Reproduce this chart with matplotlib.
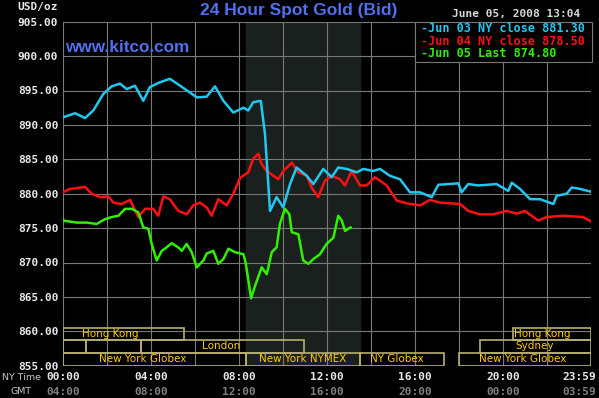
import matplotlib.pyplot as plt
from matplotlib.patches import Rectangle

# times are NY time in hours, prices are spot gold bid in USD/oz
jun03_hours = [0.0, 0.55, 1.0, 1.38, 1.83, 2.21, 2.59, 2.9, 3.27, 3.65, 3.95, 4.41, 4.86,
               5.32, 5.77, 6.08, 6.53, 6.91, 7.29, 7.74, 8.2, 8.42, 8.65, 8.99, 9.18, 9.41,
               9.71, 10.01, 10.32, 10.62, 11.08, 11.38, 11.83, 12.21, 12.51, 12.9, 13.35,
               13.65, 14.1, 14.41, 14.86, 15.32, 15.77, 16.23, 16.76, 17.06, 17.97, 18.12,
               18.42, 18.88, 19.71, 20.24, 20.4, 20.77, 21.23, 21.68, 22.29, 22.44, 22.9,
               23.12, 23.5, 23.98]
jun03_price = [891.1, 891.7, 891.0, 892.1, 894.5, 895.6, 896.0, 895.2, 895.7, 893.5, 895.5,
               896.2, 896.7, 895.7, 894.7, 894.0, 894.1, 895.6, 893.5, 891.8, 892.5, 892.1,
               893.3, 893.5, 888.7, 877.5, 879.5, 878.0, 881.4, 883.8, 882.6, 881.4, 883.6,
               882.4, 883.8, 883.6, 883.1, 883.6, 883.3, 883.6, 882.6, 882.1, 880.2, 880.2,
               879.5, 881.3, 881.5, 880.2, 881.4, 881.2, 881.4, 880.4, 881.6, 880.7, 879.2,
               879.2, 878.5, 879.7, 880.0, 880.9, 880.7, 880.3]

jun04_hours = [0.0, 0.32, 0.62, 1.0, 1.3, 1.68, 2.06, 2.29, 2.67, 3.05, 3.42, 3.73, 4.1,
               4.33, 4.56, 4.86, 5.24, 5.62, 5.92, 6.23, 6.53, 6.76, 7.06, 7.44, 7.74, 8.05,
               8.42, 8.65, 8.88, 9.03, 9.26, 9.79, 10.01, 10.4, 10.7, 11.08, 11.3, 11.6,
               11.91, 12.21, 12.59, 12.82, 13.12, 13.5, 13.8, 14.18, 14.71, 15.17, 15.62,
               16.23, 16.68, 17.14, 18.05, 18.42, 18.95, 19.55, 20.17, 20.62, 21.0, 21.6,
               21.98, 22.74, 23.65, 23.98]
jun04_price = [880.2, 880.7, 880.8, 881.0, 880.0, 879.5, 879.6, 878.7, 878.5, 879.1, 876.6,
               877.8, 877.8, 876.8, 879.6, 879.2, 877.5, 877.0, 878.3, 878.7, 878.0, 876.8,
               879.2, 878.3, 880.0, 882.3, 883.1, 885.1, 885.8, 884.3, 883.3, 882.1, 883.3,
               884.5, 883.1, 882.6, 880.9, 879.5, 881.9, 882.6, 882.1, 881.2, 883.3, 881.2,
               881.2, 882.4, 881.2, 879.0, 878.6, 878.3, 879.1, 878.7, 878.5, 877.5, 877.0,
               877.0, 877.5, 877.1, 877.5, 876.1, 876.6, 876.8, 876.6, 876.0]

jun05_hours = [0.0, 0.62, 1.08, 1.53, 1.91, 2.21, 2.52, 2.82, 3.12, 3.42, 3.65, 3.88, 4.03,
               4.26, 4.49, 4.71, 4.94, 5.24, 5.4, 5.62, 5.85, 6.08, 6.38, 6.53, 6.83, 7.06,
               7.29, 7.52, 7.82, 8.2, 8.3, 8.55, 8.73, 9.03, 9.26, 9.49, 9.71, 9.86, 10.09,
               10.29, 10.4, 10.7, 10.92, 11.15, 11.38, 11.68, 11.98, 12.29, 12.51, 12.67,
               12.82, 13.07]
jun05_price = [876.1, 875.8, 875.8, 875.6, 876.3, 876.6, 876.8, 877.8, 877.8, 877.3, 875.1,
               874.9, 872.7, 870.3, 871.7, 872.2, 872.8, 872.2, 871.7, 872.7, 871.5, 869.3,
               870.3, 871.3, 871.7, 869.8, 870.5, 872.0, 871.5, 871.2, 870.0, 864.8, 866.6,
               869.3, 868.3, 871.5, 872.2, 875.6, 877.8, 877.0, 874.4, 874.1, 870.3, 869.8,
               870.5, 871.2, 872.7, 873.6, 876.8, 876.1, 874.6, 875.1]

legend_lines = ["-Jun 03 NY close 881.30", "-Jun 04 NY close 878.50", "-Jun 05 Last 874.80"]
ny_labels = ["00:00", "04:00", "08:00", "12:00", "16:00", "20:00", "23:59"]
gmt_labels = ["04:00", "08:00", "12:00", "16:00", "20:00", "00:00", "03:59"]
label_hours = [0, 4, 8, 12, 16, 20, 23.45]

# trading sessions: row 0 = top band
sess_name = ["Hong Kong", "Hong Kong", "", "", "London", "Sydney",
             "New York Globex", "New York NYMEX", "NY Globex", "New York Globex"]
sess_start = [0, 20.45, 0, 1.03, 3.53, 18.95, 0, 8.33, 13.5, 18.0]
sess_end = [5.5, 24, 1.03, 3.53, 10.95, 24, 8.33, 13.5, 17.33, 24]
sess_row = [0, 0, 1, 1, 1, 1, 2, 2, 2, 2]
sess_label_x = [2.14, 21.77, 0, 0, 7.17, 21.45, 3.64, 10.9, 15.17, 20.9]
row_bottom = [858.75, 856.85, 855.0]
row_top = [860.55, 858.75, 856.85]

colors = ['#20c8f0', '#ff1010', '#30f000']
grid_c = '#7a7a7a'
mono = 'DejaVu Sans Mono'

fig = plt.figure(figsize=(5.99, 3.98), dpi=100, facecolor='black')
ax = fig.add_axes([63 / 599, 1 - 365.7 / 398, 528 / 599, 344 / 398])
ax.set_facecolor('black')
ax.set_xlim(0, 24)
ax.set_ylim(855, 905)

# NYMEX pit session shading
ax.axvspan(8.33, 13.5, color='#1a201d', zorder=0)

ax.set_xticks(range(0, 25, 2))
ax.set_xticklabels([])
ax.set_yticks(range(855, 906, 5))
ax.set_yticklabels([f"{v}.00" for v in range(855, 906, 5)], fontfamily=mono,
                   fontweight='bold', fontsize=8, color='#e8e8e8')
ax.tick_params(length=0, pad=3.4)
ax.grid(True, color=grid_c, linewidth=0.8, zorder=1)
ax.set_axisbelow(True)
for s in ax.spines.values():
    s.set_visible(False)

ax.plot(jun04_hours, jun04_price, color=colors[1], lw=1.8, zorder=3)
ax.plot(jun03_hours, jun03_price, color=colors[0], lw=1.8, zorder=4)
ax.plot(jun05_hours, jun05_price, color=colors[2], lw=1.8, zorder=5)

# session bars
for name, a, b, r, lx in zip(sess_name, sess_start, sess_end, sess_row, sess_label_x):
    ax.add_patch(Rectangle((a, row_bottom[r]), b - a, row_top[r] - row_bottom[r],
                           fill=False, edgecolor='#b8b070', lw=1.2, zorder=6))
    if name:
        ax.text(lx, (row_bottom[r] + row_top[r]) / 2, name, color='#ffcc00', fontsize=7.5,
                ha='center', va='center', zorder=7)

# legend box
ax.add_patch(Rectangle((16, 899.2), 8.05, 5.8, facecolor='black', edgecolor=grid_c,
                       lw=0.8, zorder=8, clip_on=False))
for txt, c, y in zip(legend_lines, colors, [904.05, 902.15, 900.4]):
    ax.text(16.26, y, txt, color=c, fontfamily=mono, fontweight='bold', fontsize=8.5,
            ha='left', va='center', zorder=9)

# x labels, NY time and GMT
xt = ax.get_xaxis_transform()
for h, a, b in zip(label_hours, ny_labels, gmt_labels):
    ax.text(h, -0.034, a, transform=xt, color='#e8e8e8', fontfamily=mono,
            fontweight='bold', fontsize=8, ha='center', va='center')
    ax.text(h, -0.077, b, transform=xt, color='#808080', fontfamily=mono,
            fontweight='bold', fontsize=8, ha='center', va='center')

fig.text(22 / 599, 1 - 377.5 / 398, "NY Time", color='#c8c8c8', fontsize=6.8,
         ha='center', va='center')
fig.text(21 / 599, 1 - 391 / 398, "GMT", color='#c8c8c8', fontsize=6.8,
         ha='center', va='center')
fig.text(58 / 599, 1 - 7 / 398, "USD/oz", color='#e8e8e8', fontfamily=mono,
         fontweight='bold', fontsize=8, ha='right', va='center')
fig.text(298.5 / 599, 1 - 11 / 398, "24 Hour Spot Gold (Bid)", color='#5070ee',
         fontfamily='Liberation Sans', fontweight='bold', fontsize=12.5,
         ha='center', va='center')
fig.text(580 / 599, 1 - 14 / 398, "June 05, 2008 13:04", color='#d8d8d8',
         fontfamily=mono, fontweight='bold', fontsize=8, ha='right', va='center')
fig.text(65 / 599, 1 - 48 / 398, "www.kitco.com", color='#5070ee',
         fontfamily='Liberation Sans', fontweight='bold', fontsize=12.3,
         ha='left', va='center')

fig.savefig("out.png", dpi=100, facecolor='black')
